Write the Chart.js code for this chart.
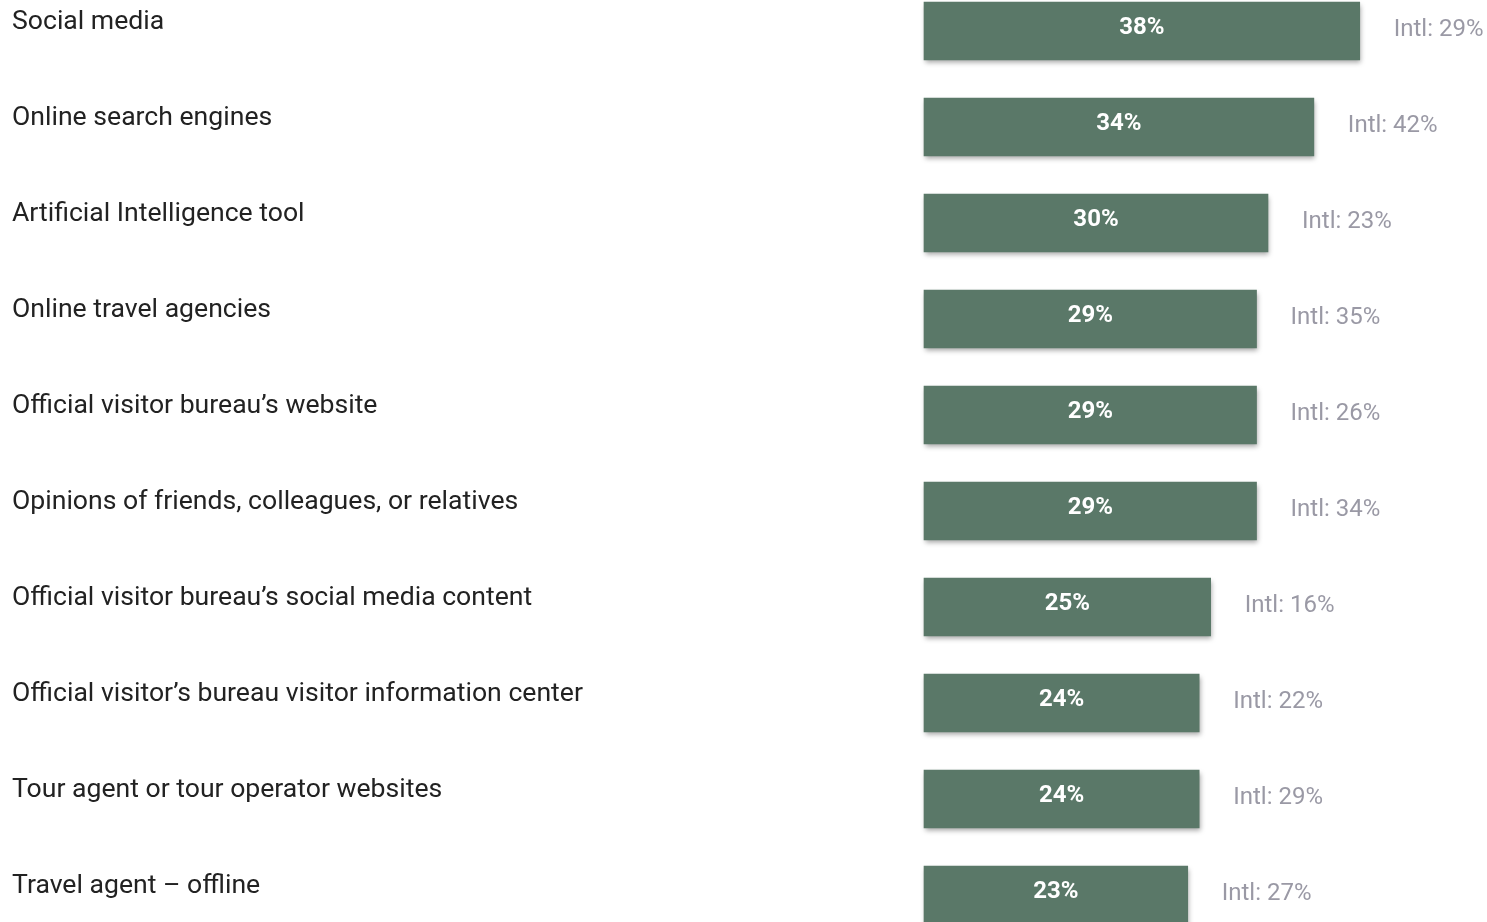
<!DOCTYPE html>
<html>
<head>
<meta charset="utf-8">
<script src="https://cdn.jsdelivr.net/npm/chart.js@4/dist/chart.umd.min.js"></script>
<style>
  html, body { margin: 0; padding: 0; background: #fff; overflow: hidden; }
  #chart { display: block; }
</style>
</head>
<body>
<canvas id="chart" width="1487" height="922"></canvas>
<script>
const categories = [
  'Social media',
  'Online search engines',
  'Artificial Intelligence tool',
  'Online travel agencies',
  'Official visitor bureau\u2019s website',
  'Opinions of friends, colleagues, or relatives',
  'Official visitor bureau\u2019s social media content',
  'Official visitor\u2019s bureau visitor information center',
  'Tour agent or tour operator websites',
  'Travel agent \u2013 offline',
]
const localShare = [38, 34, 30, 29, 29, 29, 25, 24, 24, 23]
const intlShare = [29, 42, 23, 35, 26, 34, 16, 22, 29, 27]

const barColor = '#5a7868'
const fontFamily = 'Roboto, "Open Sans", sans-serif'

// soft drop shadow under the bars
const barShadow = {
  id: 'barShadow',
  beforeDatasetsDraw(chart) {
    const ctx = chart.ctx
    ctx.save()
    ctx.shadowColor = 'rgba(0, 0, 0, 0.35)'
    ctx.shadowBlur = 5
    ctx.shadowOffsetX = 1
    ctx.shadowOffsetY = 3
  },
  afterDatasetsDraw(chart) {
    chart.ctx.restore()
  },
}

// value inside each bar, international figure to its right
const barLabels = {
  id: 'barLabels',
  afterDraw(chart) {
    const ctx = chart.ctx
    const meta = chart.getDatasetMeta(0)
    ctx.save()
    ctx.textBaseline = 'middle'
    meta.data.forEach((bar, i) => {
      const left = bar.base
      const right = bar.x
      ctx.font = `bold 24px ${fontFamily}`
      ctx.fillStyle = '#ffffff'
      ctx.textAlign = 'center'
      ctx.fillText(localShare[i] + '%', (left + right) / 2, bar.y - 3)

      ctx.font = `24px ${fontFamily}`
      ctx.fillStyle = '#9a99a5'
      ctx.textAlign = 'left'
      ctx.fillText('Intl: ' + intlShare[i] + '%', right + 34, bar.y - 1)
    })
    ctx.restore()
  },
}

new Chart(document.getElementById('chart'), {
  type: 'bar',
  data: {
    labels: categories,
    datasets: [{
      data: localShare,
      backgroundColor: barColor,
      borderWidth: 0,
      barThickness: 58,
      clip: false,
    }],
  },
  options: {
    indexAxis: 'y',
    responsive: false,
    animation: false,
    // y runs from the first row's centre to the last one's, 96px apart
    layout: { padding: { left: 12, right: 47, top: 31, bottom: 27 } },
    plugins: {
      legend: { display: false },
      tooltip: { enabled: false },
    },
    scales: {
      x: {
        display: false,
        min: 0,
        max: 45,
      },
      y: {
        offset: false,
        grid: { display: false },
        border: { display: false },
        afterFit(scale) { scale.width = 912 },
        ticks: {
          crossAlign: 'far',
          labelOffset: -9,
          color: '#222222',
          font: { family: fontFamily, size: 26.6 },
        },
      },
    },
  },
  plugins: [barShadow, barLabels],
})
</script>
</body>
</html>
